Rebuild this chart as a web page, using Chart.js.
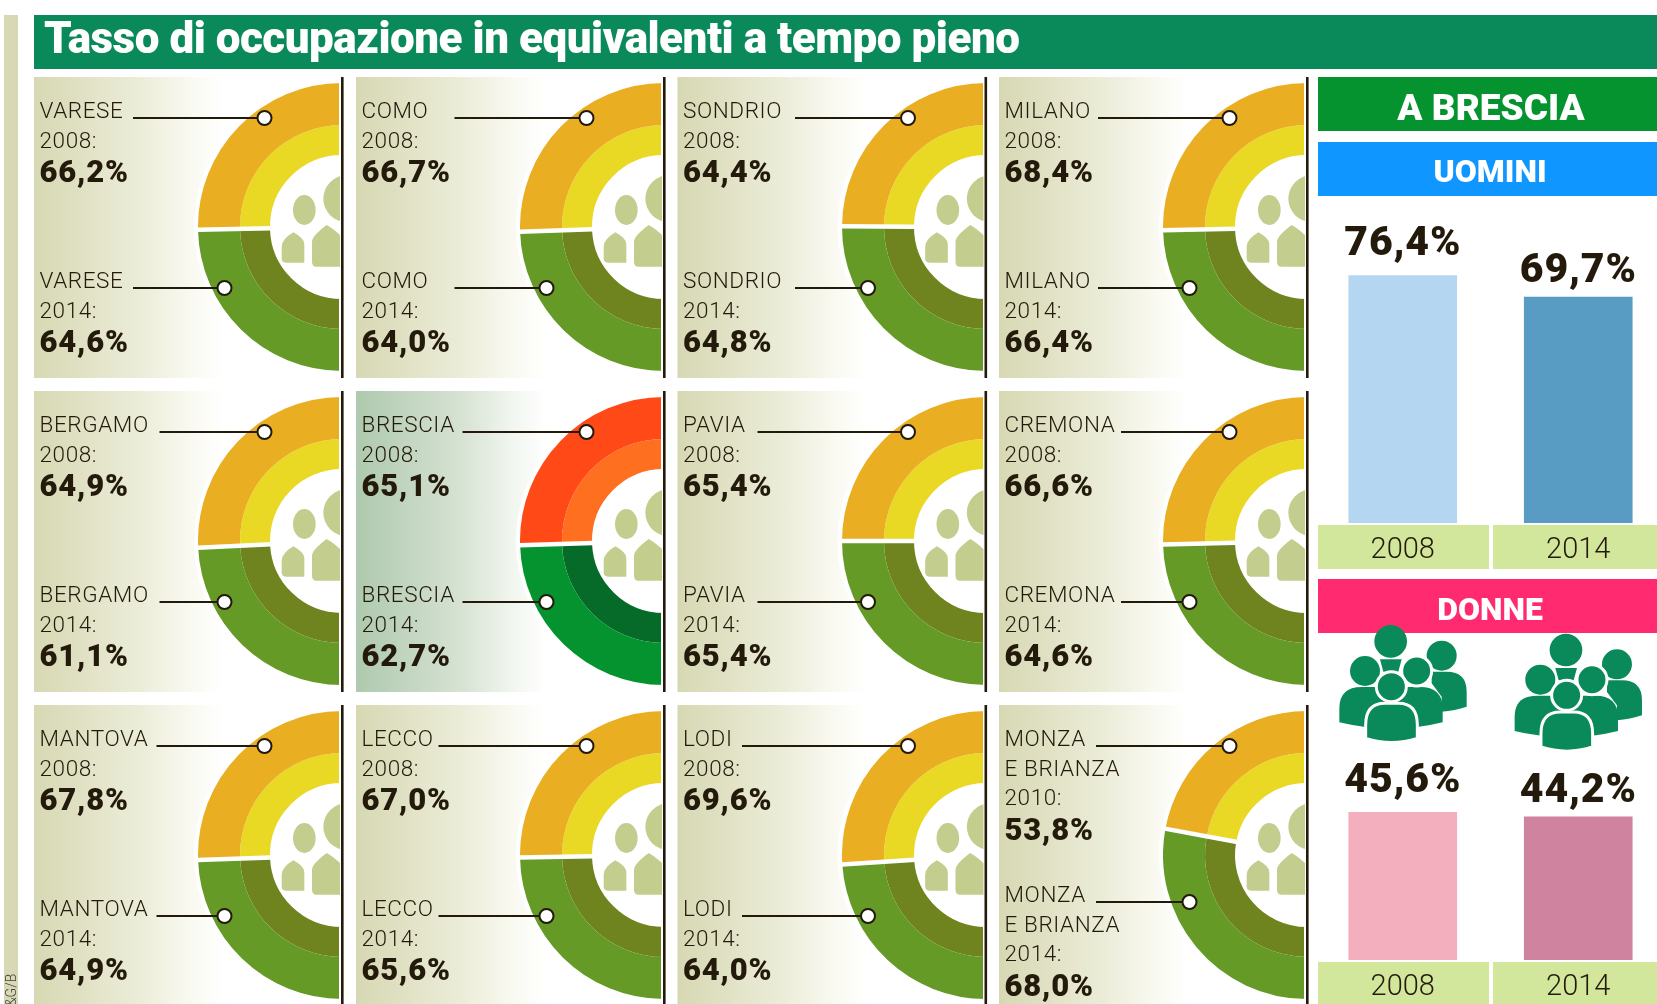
<!DOCTYPE html>
<html lang="it">
<head>
<meta charset="utf-8">
<title>Tasso di occupazione in equivalenti a tempo pieno</title>
<script src="https://cdn.jsdelivr.net/npm/chart.js@4"></script>
<style>
    html, body { margin: 0; padding: 0; background: #fff; width: 1657px; height: 1004px; overflow: hidden; }
    #pagina { position: relative; width: 1657px; height: 1004px; overflow: hidden; font-family: Roboto, sans-serif; }
    svg.strato { position: absolute; left: 0; top: 0; }
    .taglio { position: absolute; overflow: hidden; }
    canvas { display: block; position: absolute; }
    .nome { font-size: 22.5px; font-weight: 300; fill: #231a0c; letter-spacing: 0.6px; }
    .valore { font-size: 31px; font-weight: 900; fill: #231a0c; letter-spacing: 0.8px; }
    .titolo { font-size: 44px; font-weight: 900; fill: #fff; }
    .fascia { font-weight: 900; fill: #fff; text-anchor: middle; }
</style>
</head>
<body>
<div id="pagina">
    <svg id="sfondo" class="strato" width="1657" height="1004"></svg>
    <svg id="sopra" class="strato" width="1657" height="1004" style="z-index:5"></svg>
</div>
<script>
// Dati
const province = ['VARESE', 'COMO', 'SONDRIO', 'MILANO', 'BERGAMO', 'BRESCIA', 'PAVIA', 'CREMONA', 'MANTOVA', 'LECCO', 'LODI', 'MONZA\nE BRIANZA'];
const anniIniziali = [2008, 2008, 2008, 2008, 2008, 2008, 2008, 2008, 2008, 2008, 2008, 2010];
const tassoIniziale = [66.2, 66.7, 64.4, 68.4, 64.9, 65.1, 65.4, 66.6, 67.8, 67.0, 69.6, 53.8];
const tasso2014 = [64.6, 64.0, 64.8, 66.4, 61.1, 62.7, 65.4, 64.6, 64.9, 65.6, 64.0, 68.0];
const anniBarre = ['2008', '2014'];
const uomini = [76.4, 69.7];
const donne = [45.6, 44.2];

// Impaginazione
const centriX = [342, 664, 985.5, 1307];
const centriY = [227, 541, 855];
const inizioLinee = [133, 454.5, 795, 1098, 159.5, 462.5, 757.5, 1121, 156.5, 438.5, 742, 1096];

const coloriNormali = { alto: ['#e9ae22', '#e9d925'], basso: ['#659a26', '#6f831e'] };
const coloriBrescia = { alto: ['#ff4a18', '#ff6f20'], basso: ['#05932f', '#066a29'] };

const pagina = document.getElementById('pagina');
const sfondo = document.getElementById('sfondo');
const sopra = document.getElementById('sopra');

const virgola = v => v.toFixed(1).replace('.', ',');

let svgSfondo = `<defs>
    <linearGradient id="grad"><stop offset="0" stop-color="#d7d8b3"/><stop offset=".35" stop-color="#ecedd9"/><stop offset=".52" stop-color="#fafaf3"/><stop offset=".62" stop-color="#fff"/></linearGradient>
    <linearGradient id="gradBs"><stop offset="0" stop-color="#aec9ae"/><stop offset=".35" stop-color="#d8e3d4"/><stop offset=".52" stop-color="#f3f7f1"/><stop offset=".62" stop-color="#fff"/></linearGradient>
</defs>
<rect x="4" y="15" width="14" height="989" fill="#d8d8b5"/>
<rect x="34" y="15" width="1623" height="54" fill="#0a8a5a"/>
<rect x="1318" y="77" width="339" height="54" fill="#05932f"/>
<rect x="1318" y="142" width="339" height="54" fill="#1097ff"/>
<rect x="1318" y="579" width="339" height="54" fill="#ff2a70"/>
<rect x="1318" y="525" width="171" height="44" fill="#d2e79b"/>
<rect x="1493" y="525" width="164" height="44" fill="#d2e79b"/>
<rect x="1318" y="962" width="171" height="42" fill="#d2e79b"/>
<rect x="1493" y="962" width="164" height="42" fill="#d2e79b"/>`;

let svgSopra = `<defs>
    <g id="ombre" fill="#c3cd8e">
        <ellipse cx="913" cy="630" rx="34" ry="45"/>
        <circle cx="1040" cy="596" r="70"/>
        <path d="M845 775V740Q845 718 880 697Q913 715 913 732V788H858Q845 788 845 775Z"/>
        <path d="M936 785V725Q936 708 980 675Q1000 685 1030 715V800H950Q936 800 936 785Z"/>
    </g>
    <clipPath id="taglioOmbre"><rect x="820" y="500" width="200" height="320"/></clipPath>
    <g id="persone" fill="#0a8a5a" stroke="#fff" stroke-width="0">
        <circle cx="425" cy="257" r="45"/>
        <path d="M395 305H440Q500 305 500 365V410Q465 422 425 425V380L395 340Z"/>
        <path d="M118 457V415Q118 351 185 351H360Q428 351 428 415V457Q275 495 118 457Z"/>
        <circle cx="195" cy="303" r="45"/>
        <circle cx="272" cy="214" r="49"/>
        <path d="M240 268H305L295 305H250Z"/>
        <circle cx="350" cy="303" r="45" stroke-width="9"/>
        <circle cx="274" cy="350" r="45" stroke-width="9"/>
        <path d="M197 505V465Q197 400 255 400H295Q352 400 352 465V505Q275 530 197 505Z" stroke-width="9"/>
    </g>
</defs>
<text x="44" y="53" class="titolo" textLength="976" lengthAdjust="spacing">Tasso di occupazione in equivalenti a tempo pieno</text>
<text class="fascia" x="1491" y="120" font-size="37">A BRESCIA</text>
<text class="fascia" x="1490" y="182" font-size="32">UOMINI</text>
<text class="fascia" x="1490" y="620" font-size="32">DONNE</text>
<text transform="translate(16 1006) rotate(-90)" font-size="14" font-weight="300" fill="#444">&amp;G/B</text>`;

function blocco(righe, x, y, valore) {
    let s = '', yy = y;
    righe.forEach(r => {
        s += `<text class="nome" x="${x}" y="${yy}">${r}</text>`;
        yy += 29.7;
    });
    yy += 4.6;
    s += `<text class="valore" x="${x}" y="${yy}">${valore}</text>`;
    return s;
}

function collegamento(x1, x2, y) {
    return `<line x1="${x1}" x2="${x2}" y1="${y}" y2="${y}" stroke="#231a0c" stroke-width="2"/>` +
        `<circle cx="${x2}" cy="${y}" r="7" fill="#fff" stroke="#231a0c" stroke-width="2"/>`;
}

// Stacco bianco fra i due archi, sull'angolo calcolato dal grafico
const stacco = {
    id: 'stacco',
    afterDatasetsDraw(chart) {
        const ctx = chart.ctx;
        const arcoEsterno = chart.getDatasetMeta(0).data[1];
        const arcoInterno = chart.getDatasetMeta(1).data[1];
        const a = arcoEsterno.startAngle;
        ctx.save();
        ctx.strokeStyle = '#fff';
        ctx.lineWidth = 4.5;
        ctx.beginPath();
        ctx.moveTo(arcoEsterno.x + Math.cos(a) * (arcoInterno.innerRadius - 1), arcoEsterno.y + Math.sin(a) * (arcoInterno.innerRadius - 1));
        ctx.lineTo(arcoEsterno.x + Math.cos(a) * (arcoEsterno.outerRadius + 2), arcoEsterno.y + Math.sin(a) * (arcoEsterno.outerRadius + 2));
        ctx.stroke();
        ctx.restore();
    }
};

// Pannelli delle province: ogni mezza ciambella è un grafico Chart.js
province.forEach((nome, i) => {
    const cx = centriX[i % 4];
    const cy = centriY[Math.floor(i / 4)];
    const isBrescia = nome === 'BRESCIA';
    const colori = isBrescia ? coloriBrescia : coloriNormali;
    const xPannello = cx - 308;
    const altoPannello = cy - 150;

    svgSfondo += `<rect x="${xPannello}" y="${altoPannello}" width="308" height="301" fill="url(#${isBrescia ? 'gradBs' : 'grad'})"/>`;
    svgSfondo += `<path d="M${cx} ${cy - 148}A148 148 0 0 0 ${cx} ${cy + 148}Z" fill="#fff"/>`;
    svgSfondo += `<rect x="${cx - 1}" y="${altoPannello}" width="2.6" height="301" fill="#231a0c"/>`;

    const taglio = document.createElement('div');
    taglio.className = 'taglio';
    taglio.style.cssText = `left:${cx - 144}px;top:${cy - 144}px;width:141px;height:288px;z-index:2`;
    const canvas = document.createElement('canvas');
    canvas.width = 144;
    canvas.height = 288;
    canvas.style.left = '0';
    canvas.style.top = '0';
    taglio.appendChild(canvas);
    pagina.appendChild(taglio);

    new Chart(canvas, {
        type: 'doughnut',
        data: {
            labels: ['2014', String(anniIniziali[i])],
            datasets: [
                { data: [tasso2014[i], tassoIniziale[i]], backgroundColor: [colori.basso[0], colori.alto[0]], weight: 42, borderWidth: 0 },
                { data: [tasso2014[i], tassoIniziale[i]], backgroundColor: [colori.basso[1], colori.alto[1]], weight: 30, borderWidth: 0 }
            ]
        },
        options: {
            responsive: false,
            animation: false,
            rotation: 180,
            circumference: 180,
            cutout: '50%',
            layout: { padding: 0 },
            events: [],
            plugins: { legend: { display: false }, tooltip: { enabled: false } }
        },
        plugins: [stacco]
    });

    svgSopra += `<use href="#ombre" clip-path="url(#taglioOmbre)" transform="translate(${cx - 342} ${cy - 227}) scale(.33333)"/>`;

    const dueRighe = nome.includes('\n');
    const righe = nome.split('\n');
    const yAlto = cy - 109;
    const yBasso = dueRighe ? cy + 47 : cy + 61;
    const xTesto = xPannello + 5.5;
    svgSopra += blocco([...righe, anniIniziali[i] + ':'], xTesto, yAlto, virgola(tassoIniziale[i]) + '%');
    svgSopra += blocco([...righe, '2014:'], xTesto, yBasso, virgola(tasso2014[i]) + '%');
    svgSopra += collegamento(inizioLinee[i], cx - 77.5, yAlto);
    svgSopra += collegamento(inizioLinee[i], cx - 117.5, yBasso);
});

// Etichette sopra le barre
const etichetteBarre = {
    id: 'etichetteBarre',
    afterDatasetsDraw(chart) {
        const ctx = chart.ctx;
        const distanze = [20, 15];
        ctx.save();
        ctx.font = '900 41px Roboto';
        ctx.letterSpacing = '0.8px';
        ctx.fillStyle = '#231a0c';
        ctx.textAlign = 'center';
        ctx.textBaseline = 'alphabetic';
        chart.getDatasetMeta(0).data.forEach((barra, i) => {
            ctx.fillText(virgola(chart.data.datasets[0].data[i]) + '%', barra.x, barra.y - distanze[i]);
        });
        ctx.restore();
    }
};

function grafico(valori, colori, alto, altezza) {
    const canvas = document.createElement('canvas');
    canvas.width = 351;
    canvas.height = altezza;
    canvas.style.cssText = `left:1315px;top:${alto}px;z-index:2`;
    pagina.appendChild(canvas);
    new Chart(canvas, {
        type: 'bar',
        data: {
            labels: anniBarre,
            datasets: [{ data: valori, backgroundColor: colori, barThickness: 108, borderWidth: 0 }]
        },
        options: {
            responsive: false,
            animation: false,
            events: [],
            layout: { padding: 0 },
            plugins: { legend: { display: false }, tooltip: { enabled: false } },
            scales: {
                x: {
                    grid: { display: false, drawTicks: false },
                    border: { display: false },
                    afterFit: s => { s.height = altezza - 324; },
                    ticks: { color: '#231a0c', font: { family: 'Roboto', size: 29, weight: 300 }, padding: 10, maxRotation: 0 }
                },
                y: { display: false, min: 0, max: 100 }
            }
        },
        plugins: [etichetteBarre]
    });
}

grafico(uomini, ['#b4d6f1', '#599cc3'], 199, 371);
grafico(donne, ['#f3afbe', '#cf839e'], 636, 368);

// Icone delle persone sopra le barre delle donne
[[1300, 570], [1475.3, 578.7]].forEach(p => {
    svgSopra += `<use href="#persone" transform="translate(${p[0]} ${p[1]}) scale(.33333)"/>`;
});

sfondo.innerHTML = svgSfondo;
sopra.innerHTML = svgSopra;
</script>
</body>
</html>
